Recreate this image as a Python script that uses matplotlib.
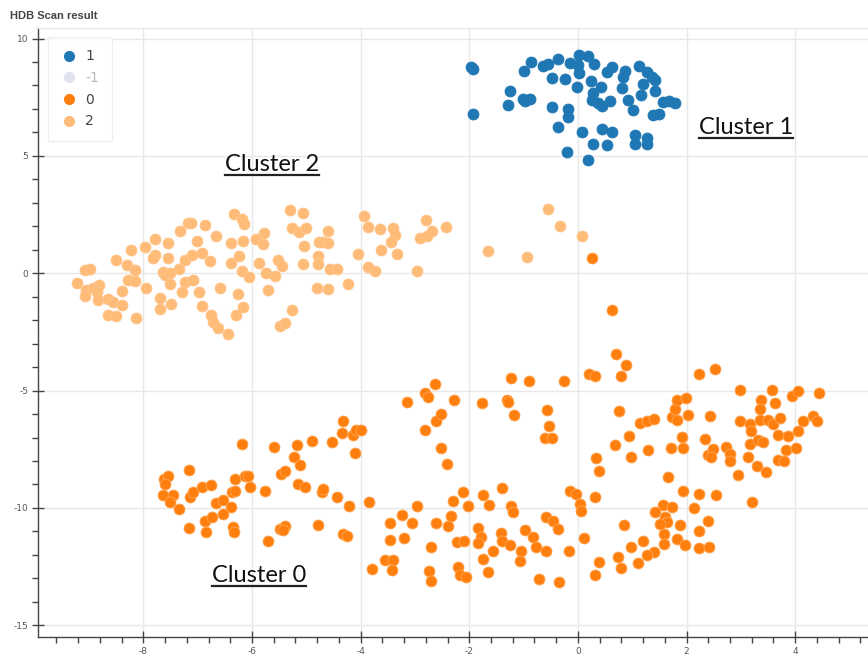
import numpy as np
import matplotlib
matplotlib.use("Agg")
import matplotlib.pyplot as plt
from matplotlib.lines import Line2D
from matplotlib.ticker import MultipleLocator

plt.rcParams["axes.unicode_minus"] = False

# cluster 1 (blue)
c1_x = [-1.96, -1.93, -1.93, -1.25, -1.29, -1.02, -0.88, -0.98, -0.99, -0.87,
        -0.64, -0.55, -0.36, -0.47, -0.24, -0.15, 0.02, 0.18, 0.01, 0.02,
        0.30, -0.02, 0.24, 0.42, 0.28, 0.25, 0.37, 0.44, 0.59, -0.48,
        -0.18, -0.18, -0.36, 0.08, 0.44, 0.63, 0.28, 0.54, -0.21, 0.18,
        0.53, 0.62, 0.87, 0.83, 0.82, 0.92, 1.01, 1.12, 1.19, 1.17,
        1.28, 1.36, 1.41, 1.42, 1.56, 1.68, 1.79, 1.39, 1.50, 1.05,
        1.05, 1.27, 1.28]
c1_y = [8.78, 8.69, 6.77, 7.76, 7.17, 7.42, 7.42, 7.34, 8.63, 9.01,
        8.84, 8.90, 9.12, 8.31, 8.28, 8.95, 9.30, 9.26, 8.87, 8.55,
        8.90, 7.95, 8.20, 7.95, 7.67, 7.38, 7.27, 7.12, 7.35, 7.07,
        7.00, 6.64, 6.22, 6.00, 6.13, 6.03, 5.50, 5.46, 5.16, 4.83,
        8.59, 8.78, 8.62, 8.37, 7.91, 7.38, 6.95, 8.83, 8.05, 7.59,
        8.56, 8.37, 8.23, 7.78, 7.31, 7.35, 7.24, 6.74, 6.77, 5.89,
        5.50, 5.75, 5.50]

# cluster 2 (light orange)
c2_x = [-9.23, -9.08, -8.99, -9.05, -9.08, -8.93, -8.81, -8.86, -8.83, -8.65,
        -8.56, -8.40, -8.65, -8.51, -8.40, -8.51, -8.30, -8.16, -8.28, -8.16,
        -8.22, -7.97, -7.96, -8.13, -7.79, -7.79, -7.82, -7.55, -7.55, -7.64,
        -7.61, -7.51, -7.51, -7.69, -7.69, -7.50, -7.33, -7.18, -7.13, -7.34,
        -7.24, -7.11, -6.93, -7.02, -6.86, -6.78, -6.67, -7.24, -7.08, -7.28,
        -6.97, -6.93, -6.75, -6.72, -6.62, -6.44, -6.59, -6.34, -6.19, -6.15,
        -6.38, -6.16, -6.38, -6.24, -6.19, -6.05, -6.26, -6.17, -6.30, -5.93,
        -5.78, -5.80, -5.87, -5.75, -5.58, -5.52, -5.44, -5.70, -5.27, -5.49,
        -5.40, -5.30, -5.06, -5.27, -5.13, -5.01, -5.04, -5.07, -4.81, -4.77,
        -4.60, -4.69, -4.60, -4.78, -4.78, -4.57, -4.43, -4.60, -4.23, -4.05,
        -3.94, -3.86, -3.65, -3.41, -3.37, -3.45, -3.63, -3.33, -3.86, -3.74,
        -2.96, -2.80, -2.91, -2.77, -2.68, -2.43, -1.66, -0.93, -0.56, -0.33,
        0.07]
c2_y = [-0.41, 0.13, 0.20, -0.73, -0.98, -0.65, -0.51, -0.80, -1.15, -1.08,
        -1.22, -1.37, -1.79, -1.83, -0.76, 0.58, 0.34, 0.13, -0.27, -0.33,
        1.01, 1.12, -0.65, -1.91, 1.44, 0.77, 0.63, 1.27, 0.63, 0.06,
        -0.09, -0.01, -0.47, -1.04, -1.51, -1.32, 1.79, 2.16, 2.16, 0.16,
        0.55, 0.77, 0.88, 1.38, 2.05, 0.51, 1.58, -0.37, -0.30, -0.80,
        -0.80, -1.41, -1.79, -2.08, -2.32, -2.57, -0.65, 2.52, 2.33, 2.08,
        1.29, 1.38, 0.44, 0.74, 0.10, -0.18, -0.87, -1.44, -1.80, 1.48,
        1.72, 1.24, 0.44, 0.01, -0.13, 0.58, 0.30, -0.70, -1.58, -2.26,
        -2.12, 2.69, 2.57, 1.91, 1.76, 1.91, 1.15, 0.38, -0.65, 1.34,
        1.79, 1.31, 1.27, 0.73, 0.41, 0.20, 0.16, -0.68, -0.44, 0.84,
        2.43, 1.98, 1.88, 1.93, 1.62, 1.34, 0.98, 0.84, 0.27, 0.09,
        0.10, 2.29, 1.52, 1.59, 1.80, 1.95, 0.93, 0.70, 2.74, 2.01,
        1.59]

# cluster 0 (orange)
c0_x = [-7.62, -7.55, -7.61, -7.64, -7.45, -7.51, -7.34, -7.16, -7.15, -7.08,
        -6.93, -6.75, -7.16, -6.84, -6.87, -6.73, -6.67, -6.54, -6.53, -6.38,
        -6.36, -6.32, -6.32, -6.13, -6.07, -6.19, -6.03, -6.35, -6.33, -5.76,
        -5.71, -5.59, -5.46, -5.40, -5.49, -5.40, -5.43, -5.18, -5.22, -5.12,
        -5.15, -5.03, -4.89, -4.72, -4.69, -4.78, -4.52, -4.35, -4.33, -4.14,
        -4.08, -4.00, -4.11, -4.43, -4.22, -4.32, -4.25, -3.84, -3.80, -3.46,
        -3.46, -3.24, -3.06, -3.20, -2.96, -3.55, -3.40, -3.42, -3.14, -2.82,
        -2.76, -2.63, -2.82, -2.62, -2.53, -2.52, -2.41, -2.28, -2.62, -2.71,
        -2.74, -2.71, -2.39, -2.34, -2.30, -2.12, -2.03, -2.22, -2.09, -2.20,
        -2.17, -2.06, -1.84, -1.79, -1.84, -1.74, -1.64, -1.74, -1.65, -1.76,
        -1.23, -0.90, -1.30, -1.28, -1.17, -1.39, -1.42, -1.39, -1.56, -1.24,
        -1.19, -1.25, -0.98, -0.83, -0.78, -1.04, -1.06, -0.71, -0.58, -0.26,
        -0.57, -0.53, -0.61, -0.47, -0.58, -0.45, -0.37, -0.34, -0.16, -0.15,
        -0.04, 0.04, 0.05, 0.12, 0.21, 0.31, 0.33, 0.39, 0.31, 0.39,
        0.31, 0.70, 0.88, 0.80, 0.76, 0.68, 0.94, 0.98, 1.29, 1.14,
        1.27, 1.40, 1.71, 1.66, 1.73, 1.82, 1.79, 1.82, 1.99, 2.02,
        1.91, 1.93, 2.23, 2.52, 2.43, 2.34, 2.40, 2.49, 2.45, 2.72,
        2.80, 2.80, 2.94, 1.94, 2.23, 2.55, 2.14, 2.40, 2.23, 2.22,
        2.42, 1.57, 1.73, 1.42, 1.60, 1.64, 1.51, 1.87, 1.58, 1.58,
        1.83, 1.97, 1.20, 1.40, 1.27, 0.85, 0.97, 0.73, 0.80, 1.11,
        2.98, 3.57, 3.37, 3.35, 3.62, 3.95, 4.06, 4.44, 2.98, 3.17,
        3.18, 3.35, 3.49, 3.59, 3.72, 4.14, 4.33, 4.41, 3.17, 3.32,
        3.41, 3.69, 3.87, 4.06, 3.14, 3.29, 3.46, 3.69, 3.80, 3.83,
        4.01, 3.20, 0.26, 0.62]
c0_y = [-8.76, -8.66, -8.97, -9.47, -9.47, -9.76, -10.04, -8.37, -9.54, -9.33,
        -9.12, -9.01, -10.85, -11.04, -10.54, -10.37, -9.80, -9.65, -10.25, -9.94,
        -9.33, -9.26, -8.76, -8.66, -8.62, -7.27, -9.09, -10.82, -11.04, -9.26,
        -11.42, -7.41, -8.55, -8.43, -10.89, -10.75, -10.96, -7.30, -7.81, -8.16,
        -8.97, -9.09, -7.15, -9.33, -9.19, -10.71, -7.20, -6.80, -6.30, -6.91,
        -6.70, -6.67, -7.67, -9.54, -9.90, -11.10, -11.18, -9.76, -12.60, -10.65,
        -11.36, -10.29, -10.64, -11.29, -9.93, -12.24, -12.24, -12.64, -5.49, -5.11,
        -5.28, -4.74, -6.67, -6.31, -5.99, -7.44, -8.12, -5.42, -10.64, -11.68,
        -12.70, -13.10, -10.75, -10.35, -9.71, -9.33, -9.90, -11.46, -11.43, -12.53,
        -12.84, -12.93, -10.85, -11.22, -11.51, -9.43, -9.86, -12.17, -12.74, -5.53,
        -4.45, -4.59, -5.38, -5.49, -6.03, -9.16, -11.08, -11.42, -11.82, -9.93,
        -10.18, -11.57, -10.96, -11.25, -11.68, -11.82, -12.27, -13.02, -11.85, -4.61,
        -5.81, -6.53, -7.01, -7.01, -10.40, -10.57, -10.89, -13.17, -11.82, -9.29,
        -9.40, -9.83, -10.11, -11.29, -4.31, -4.39, -7.86, -8.43, -9.54, -12.32,
        -12.85, -3.43, -3.91, -4.38, -5.87, -7.30, -6.95, -7.81, -7.55, -6.39,
        -6.31, -6.20, -7.44, -8.69, -6.13, -6.27, -5.77, -5.42, -5.32, -6.06,
        -6.98, -7.45, -4.28, -4.07, -6.10, -7.08, -7.73, -7.48, -7.81, -7.41,
        -7.69, -8.01, -8.59, -9.26, -9.40, -9.47, -10.01, -10.57, -10.99, -11.72,
        -11.68, -9.86, -9.94, -10.18, -10.40, -10.61, -10.68, -10.72, -11.10, -11.53,
        -11.32, -11.56, -11.42, -11.86, -11.99, -10.72, -11.68, -12.07, -12.57, -12.36,
        -4.96, -4.96, -5.42, -5.77, -5.53, -5.25, -5.02, -5.09, -6.30, -6.41,
        -6.74, -6.27, -6.24, -6.41, -6.17, -6.30, -6.10, -6.30, -7.27, -7.12,
        -7.20, -6.91, -6.95, -6.73, -7.84, -8.23, -8.48, -7.94, -8.02, -7.55,
        -7.44, -9.73, 0.63, -1.58]

legend_labels = ["1", "-1", "0", "2"]
col_blue = "#1f77b4"
col_noise = "#dfe3ee"
col_c0 = "#ff7f0e"
col_c2 = "#ffbb78"

fig = plt.figure(figsize=(8.68, 6.57), dpi=100)
ax = fig.add_axes([38 / 868, (657 - 637) / 657, (868 - 38) / 868, (637 - 28) / 657])

msize = 62
ax.scatter(c1_x, c1_y, s=msize, color=col_blue, edgecolors=col_blue, linewidths=0.6, zorder=3)
ax.scatter(c0_x, c0_y, s=msize, color=col_c0, edgecolors="#ffa552", linewidths=0.6, zorder=3)
ax.scatter(c2_x, c2_y, s=msize, color=col_c2, edgecolors="#ffc58c", linewidths=0.6, zorder=3)

ax.set_xlim(-9.94, 5.34)
ax.set_ylim(-15.5, 10.45)

ax.xaxis.set_major_locator(MultipleLocator(2))
ax.xaxis.set_minor_locator(MultipleLocator(0.4))
ax.yaxis.set_major_locator(MultipleLocator(5))
ax.yaxis.set_minor_locator(MultipleLocator(1))
ax.grid(True, which="major", color="#e8e8e8", lw=1, zorder=0)
ax.set_axisbelow(True)

for s in ["left", "bottom"]:
    ax.spines[s].set_color("#444444")
    ax.spines[s].set_linewidth(1)
ax.spines["top"].set_color("#e5e5e5")
ax.spines["right"].set_visible(False)
ax.tick_params(which="major", direction="inout", length=8, width=1, color="#444444",
               labelsize=6.5, labelcolor="#555555", pad=3)
ax.tick_params(which="minor", direction="out", length=4, width=1, color="#444444")

# legend
handles = [Line2D([], [], ls="", marker="o", ms=7, color=c)
           for c in [col_blue, col_noise, col_c0, col_c2]]
leg = ax.legend(handles, legend_labels, loc="upper left",
                bbox_to_anchor=((48 - 38) / 830, 1 - (37 - 28) / 609),
                borderaxespad=0, fontsize=10, frameon=True, fancybox=False,
                edgecolor="#ececec", handlelength=1.2, handletextpad=0.6,
                labelspacing=0.55, borderpad=0.9)
for t, c in zip(leg.get_texts(), ["#444444", "#b8b8b8", "#444444", "#444444"]):
    t.set_color(c)

fig.text(10 / 868, 1 - 16 / 657, "HDB Scan result", fontsize=8, fontweight="bold",
         color="#444444", family="Liberation Sans", va="center", ha="left")

# cluster annotations, underlined
notes = [("Cluster 1", 3.09, 5.95), ("Cluster 2", -5.63, 4.37), ("Cluster 0", -5.87, -13.16)]
labels = []
for txt, x, y in notes:
    labels.append(ax.text(x, y, txt, fontsize=17, family="Lato", color="#111111",
                          ha="center", va="baseline"))

fig.canvas.draw()
r = fig.canvas.get_renderer()
inv = fig.transFigure.inverted()
for t, (txt, x, y) in zip(labels, notes):
    bb = t.get_window_extent(r)
    base = ax.transData.transform((x, y))[1] - 4
    p0 = inv.transform((bb.x0, base))
    p1 = inv.transform((bb.x1, base))
    fig.add_artist(Line2D([p0[0], p1[0]], [p0[1], p1[1]], color="#222222", lw=1.6))

fig.savefig("out.png", dpi=100)
